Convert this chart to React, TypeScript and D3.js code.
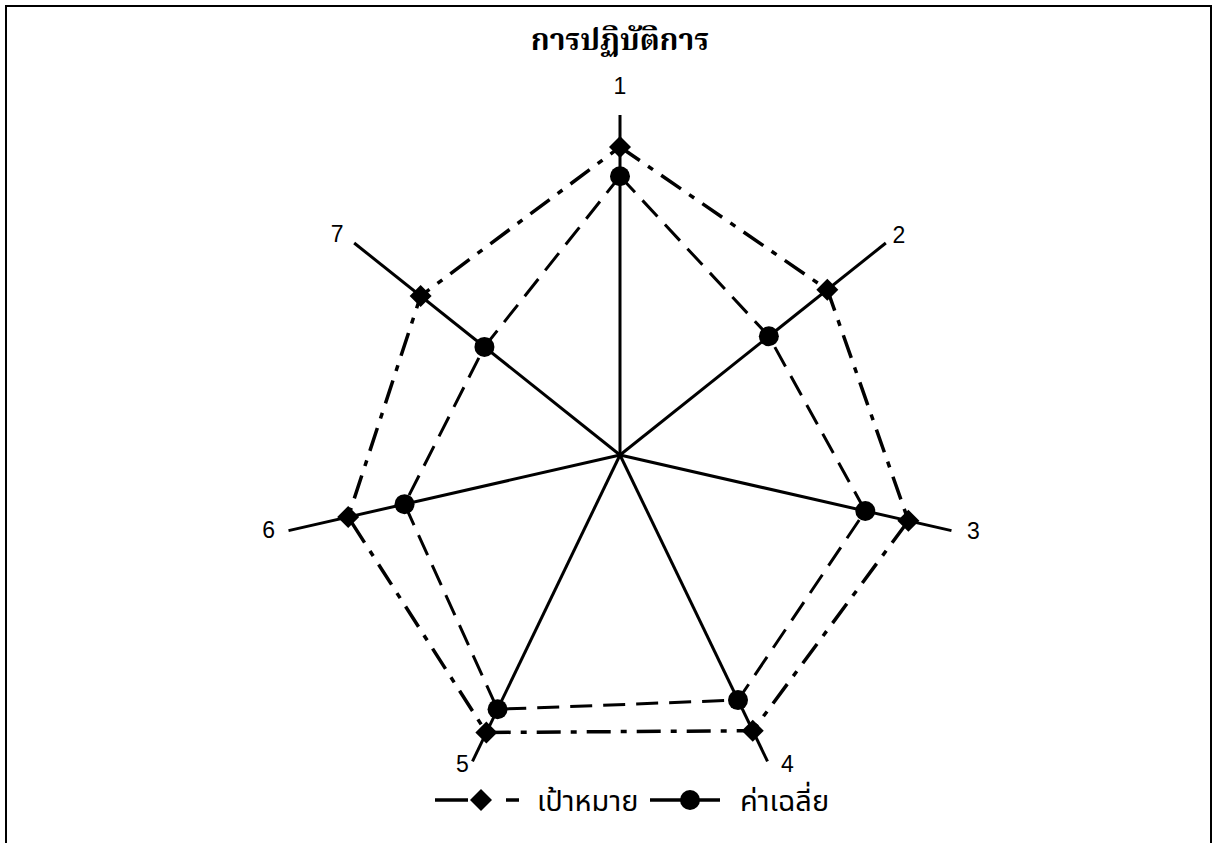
import React from "react";
import * as d3 from "d3";

const axes = ["1", "2", "3", "4", "5", "6", "7"];
const targetValues = [4.53, 3.9, 4.35, 4.5, 4.53, 4.1, 3.75];
const averageValues = [4.1, 2.8, 3.7, 4.0, 4.15, 3.25, 2.55];
const seriesNames = ["เป้าหมาย", "ค่าเฉลี่ย"];
const title = "การปฏิบัติการ";

const W = 1213;
const H = 843;
const cx = 620;
const cy = 455;
const R = 340;
const labelFont = "'Liberation Sans', Arial, sans-serif";
const thaiFont = "'Noto Sans Thai', 'Noto Sans', sans-serif";

export default function App() {
  const n = axes.length;
  const rScale = d3.scaleLinear().domain([0, 5]).range([0, R]);
  const angle = (i: number) => (i * 2 * Math.PI) / n;
  const pt = (i: number, r: number): [number, number] => [
    Math.sin(angle(i)) * r,
    -Math.cos(angle(i)) * r,
  ];
  const radial = d3
    .lineRadial<number>()
    .angle((_, i) => angle(i))
    .radius((d) => rScale(d))
    .curve(d3.curveLinearClosed);

  const diamond = (x: number, y: number, s: number) =>
    `M${x},${y - s}L${x + s},${y}L${x},${y + s}L${x - s},${y}Z`;

  const labelOffsets: [number, number][] = [
    [0, -29],
    [13, -8],
    [22, 0],
    [20, 3],
    [-10, 3],
    [-20, -1],
    [-17, -9],
  ];

  return (
    <svg
      width={W}
      height={H}
      style={{ position: "absolute", left: 0, top: 0, background: "#fff" }}
    >
      <rect x={6} y={6} width={1205} height={H + 10} fill="none" stroke="#000" strokeWidth={2} />
      <text
        x={cx}
        y={50}
        textAnchor="middle"
        fontFamily="'Noto Serif Thai', 'Noto Sans Thai', serif"
        fontWeight="bold"
        fontSize={30}
        fill="#000"
      >
        {title}
      </text>
      <g transform={`translate(${cx},${cy})`}>
        {axes.map((a, i) => {
          const [x, y] = pt(i, R);
          return (
            <g key={a}>
              <line x1={0} y1={0} x2={x} y2={y} stroke="#000" strokeWidth={3} />
              <text
                x={x + labelOffsets[i][0]}
                y={y + labelOffsets[i][1]}
                textAnchor="middle"
                dominantBaseline="central"
                fontFamily={labelFont}
                fontSize={23}
                fill="#000"
              >
                {a}
              </text>
            </g>
          );
        })}
        <path
          d={radial(targetValues) || ""}
          fill="none"
          stroke="#000"
          strokeWidth={3.5}
          strokeDasharray="24 10 6 10"
        />
        <path
          d={radial(averageValues) || ""}
          fill="none"
          stroke="#000"
          strokeWidth={3}
          strokeDasharray="22 11"
        />
        {targetValues.map((v, i) => {
          const [x, y] = pt(i, rScale(v));
          return <path key={"t" + i} d={diamond(x, y, 11)} fill="#000" />;
        })}
        {averageValues.map((v, i) => {
          const [x, y] = pt(i, rScale(v));
          return <circle key={"a" + i} cx={x} cy={y} r={10} fill="#000" />;
        })}
      </g>
      <g>
        <line x1={435} y1={800} x2={468} y2={800} stroke="#000" strokeWidth={3.5} />
        <path d={diamond(481, 800, 11)} fill="#000" />
        <line x1={506} y1={800} x2={519} y2={800} stroke="#000" strokeWidth={3.5} />
        <text x={537} y={811} fontFamily={thaiFont} fontSize={29} fill="#000">
          {seriesNames[0]}
        </text>
        <line x1={650} y1={800} x2={720} y2={800} stroke="#000" strokeWidth={3.5} />
        <circle cx={690} cy={800} r={10} fill="#000" />
        <text x={740} y={811} fontFamily={thaiFont} fontSize={29} fill="#000">
          {seriesNames[1]}
        </text>
      </g>
    </svg>
  );
}
